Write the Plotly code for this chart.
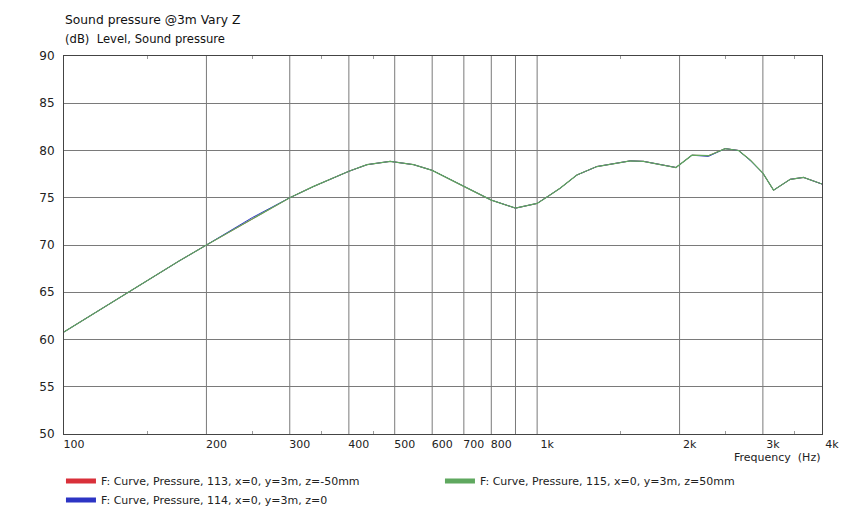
import math
import plotly.graph_objects as go

freq = [100, 125, 150, 175, 200, 250, 300, 337, 400, 437, 489, 548, 600, 700, 800, 900,
        1000, 1065, 1118, 1213, 1337, 1573, 1678, 1965, 2124, 2302, 2497, 2665, 2820,
        3000, 3160, 3427, 3656, 4000]
spl_z_m50 = [60.8, 63.8, 66.2, 68.3, 70.0, 72.8, 75.0, 76.2, 77.8, 78.5, 78.85, 78.5, 77.9,
             76.2, 74.75, 73.9, 74.4, 75.3, 76.0, 77.4, 78.3, 78.9, 78.85, 78.2, 79.5, 79.45,
             80.2, 80.0, 79.0, 77.6, 75.8, 76.95, 77.15, 76.45]
spl_z_0 = [60.8, 63.8, 66.2, 68.3, 70.0, 72.9, 75.0, 76.2, 77.8, 78.5, 78.85, 78.5, 77.9,
           76.2, 74.75, 73.9, 74.4, 75.3, 76.0, 77.4, 78.3, 78.9, 78.85, 78.2, 79.5, 79.38,
           80.2, 80.0, 78.95, 77.6, 75.8, 76.95, 77.15, 76.45]
spl_z_50 = [60.8, 63.8, 66.2, 68.3, 70.0, 72.8, 75.0, 76.2, 77.8, 78.5, 78.85, 78.5, 77.9,
            76.2, 74.75, 73.9, 74.4, 75.3, 76.0, 77.4, 78.3, 78.9, 78.85, 78.2, 79.5, 79.45,
            80.2, 80.0, 79.0, 77.6, 75.8, 76.95, 77.15, 76.45]

names = ["F: Curve, Pressure, 113, x=0, y=3m, z=-50mm",
         "F: Curve, Pressure, 114, x=0, y=3m, z=0",
         "F: Curve, Pressure, 115, x=0, y=3m, z=50mm"]
colors = ["#d9303a", "#2c34c4", "#5fa85f"]
widths = [1, 1, 1.2]
ranks = [1, 3, 2]
series = [spl_z_m50, spl_z_0, spl_z_50]

x_tickvals = [100, 200, 300, 400, 500, 600, 700, 800, 1000, 2000, 3000, 4000]
x_ticktext = ["100", "200", "300", "400", "500", "600", "700", "800", "1k", "2k", "3k", "4k"]
x_grid = [200, 300, 400, 500, 600, 700, 800, 900, 1000, 2000, 3000]
x_minor = [150, 250, 350, 450, 1500, 2500, 3500]
y_ticks = [50, 55, 60, 65, 70, 75, 80, 85, 90]

fig = go.Figure()

for s, c, w in zip(series, colors, widths):
    fig.add_trace(go.Scatter(x=freq, y=s, mode="lines", line=dict(color=c, width=w),
                             showlegend=False, hoverinfo="skip"))

for c, n, r in zip(colors, names, ranks):
    fig.add_trace(go.Scatter(x=[None], y=[None], mode="lines", line=dict(color=c, width=5),
                             name=n, legendrank=r, showlegend=True))

fig.update_layout(
    width=844, height=530,
    margin=dict(l=64, r=22, t=56, b=96, autoexpand=False),
    paper_bgcolor="white", plot_bgcolor="white",
    font=dict(family="DejaVu Sans", size=11, color="#222"),
    xaxis=dict(type="log", range=[math.log10(100), math.log10(4000)],
               tickmode="array", tickvals=x_tickvals, ticktext=x_ticktext,
               ticks="", ticklabelshift=10, ticklabelstandoff=0, automargin=False,
               showgrid=False, zeroline=False,
               showline=True, linecolor="#444", linewidth=1, mirror="ticks",
               minor=dict(tickmode="array", tickvals=x_minor, ticks="inside",
                          ticklen=3, tickcolor="#999", showgrid=False),
               tickfont=dict(size=11, color="#222")),
    yaxis=dict(range=[50, 90], tickmode="array", tickvals=y_ticks, automargin=False,
               ticks="", showgrid=True, gridcolor="#7a7a7a", gridwidth=1,
               zeroline=False, showline=True, linecolor="#444", linewidth=1, mirror=True,
               tickfont=dict(size=12, color="#222"), ticklabelstandoff=6),
    legend=dict(orientation="h", x=-0.004, xanchor="left", y=-0.086, yanchor="top",
                entrywidth=334, font=dict(size=11, color="#222"),
                itemwidth=30, bgcolor="rgba(0,0,0,0)", traceorder="normal"),
    annotations=[
        dict(text="Sound pressure @3m Vary Z", xref="paper", yref="paper", x=0.0, y=1.095,
             xanchor="left", yanchor="middle", showarrow=False, font=dict(size=12.3, color="#111"),
             xshift=-1),
        dict(text="(dB)  Level, Sound pressure", xref="paper", yref="paper", x=0.0, y=1.045,
             xanchor="left", yanchor="middle", showarrow=False, font=dict(size=11.6, color="#111"),
             xshift=-1),
        dict(text="Frequency  (Hz)", xref="paper", yref="paper", x=1.0, y=-0.063,
             xanchor="right", yanchor="middle", showarrow=False, font=dict(size=11, color="#222")),
    ],
)

for f in x_grid:
    fig.add_vline(x=f, line=dict(color="#7a7a7a", width=1), layer="below")

fig.write_html("out.html", config={"displayModeBar": False},
               post_script="document.body.style.margin='0';")
